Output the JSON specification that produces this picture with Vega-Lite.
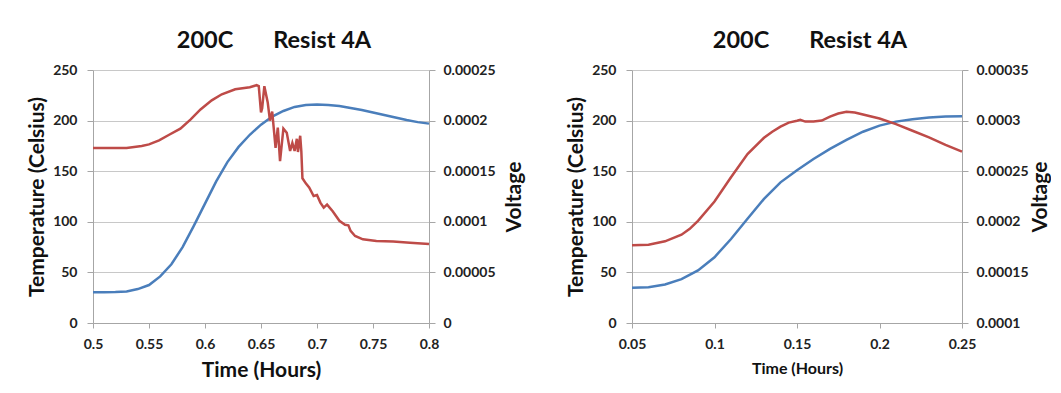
{
  "$schema": "https://vega.github.io/schema/vega-lite/v6.json",
  "background": "white",
  "padding": {"left": 26, "top": 28, "right": 0, "bottom": 0},
  "spacing": 40,
  "config": {
    "view": {"stroke": null},
    "font": "Lato",
    "axis": {
      "labelFont": "Lato", "labelFontWeight": "bold", "labelFontSize": 14, "labelColor": "#222222",
      "titleFont": "Lato", "titleFontWeight": "bold", "titleColor": "#111111",
      "domainColor": "#A6A6A6", "tickColor": "#A6A6A6", "gridColor": "#C8C8C8", "tickSize": 6, "labelPadding": 10
    },
    "title": {"font": "Lato", "fontWeight": "bold", "fontSize": 23.5, "color": "#111111"}
  },
  "datasets": {
    "leftTemp": [
      {"t": 0.5, "temp": 30.4}, {"t": 0.51, "temp": 30.4}, {"t": 0.52, "temp": 30.6}, {"t": 0.53, "temp": 31.2},
      {"t": 0.54, "temp": 33.5}, {"t": 0.55, "temp": 37.5}, {"t": 0.56, "temp": 46}, {"t": 0.57, "temp": 58},
      {"t": 0.58, "temp": 75}, {"t": 0.59, "temp": 96}, {"t": 0.6, "temp": 118}, {"t": 0.61, "temp": 140},
      {"t": 0.62, "temp": 159}, {"t": 0.63, "temp": 174}, {"t": 0.64, "temp": 186}, {"t": 0.65, "temp": 196},
      {"t": 0.66, "temp": 204}, {"t": 0.67, "temp": 209.5}, {"t": 0.68, "temp": 213.5}, {"t": 0.69, "temp": 215.5},
      {"t": 0.7, "temp": 216}, {"t": 0.71, "temp": 215.5}, {"t": 0.72, "temp": 214.5}, {"t": 0.73, "temp": 212.5},
      {"t": 0.74, "temp": 210.5}, {"t": 0.75, "temp": 208}, {"t": 0.76, "temp": 205.5}, {"t": 0.77, "temp": 203},
      {"t": 0.78, "temp": 200.5}, {"t": 0.79, "temp": 198.5}, {"t": 0.8, "temp": 197}
    ],
    "leftVolt": [
      {"t": 0.5, "volt": 0.000173}, {"t": 0.53, "volt": 0.000173}, {"t": 0.5435, "volt": 0.000175}, {"t": 0.55, "volt": 0.0001765},
      {"t": 0.559, "volt": 0.0001805}, {"t": 0.568, "volt": 0.000186}, {"t": 0.578, "volt": 0.000192}, {"t": 0.587, "volt": 0.000201},
      {"t": 0.596, "volt": 0.000211}, {"t": 0.606, "volt": 0.00022}, {"t": 0.615, "volt": 0.000226}, {"t": 0.627, "volt": 0.000231},
      {"t": 0.64, "volt": 0.000233}, {"t": 0.646, "volt": 0.000235}, {"t": 0.648, "volt": 0.000234}, {"t": 0.65, "volt": 0.000208},
      {"t": 0.651, "volt": 0.000212}, {"t": 0.653, "volt": 0.000234}, {"t": 0.656, "volt": 0.000218}, {"t": 0.658, "volt": 0.0002},
      {"t": 0.66, "volt": 0.000209}, {"t": 0.663, "volt": 0.000173}, {"t": 0.665, "volt": 0.000193}, {"t": 0.667, "volt": 0.00016},
      {"t": 0.67, "volt": 0.000192}, {"t": 0.673, "volt": 0.000188}, {"t": 0.676, "volt": 0.00017}, {"t": 0.678, "volt": 0.000178},
      {"t": 0.68, "volt": 0.00017}, {"t": 0.682, "volt": 0.000182}, {"t": 0.683, "volt": 0.000169}, {"t": 0.685, "volt": 0.000185},
      {"t": 0.686, "volt": 0.00017}, {"t": 0.687, "volt": 0.000143}, {"t": 0.69, "volt": 0.000138}, {"t": 0.693, "volt": 0.000134},
      {"t": 0.697, "volt": 0.0001255}, {"t": 0.7, "volt": 0.0001265}, {"t": 0.703, "volt": 0.000119}, {"t": 0.706, "volt": 0.000114},
      {"t": 0.709, "volt": 0.000117}, {"t": 0.714, "volt": 0.0001105}, {"t": 0.72, "volt": 0.000101}, {"t": 0.725, "volt": 0.000097},
      {"t": 0.728, "volt": 0.0000965}, {"t": 0.73, "volt": 0.000091}, {"t": 0.734, "volt": 0.000086}, {"t": 0.741, "volt": 0.0000827},
      {"t": 0.753, "volt": 0.000081}, {"t": 0.768, "volt": 0.0000805}, {"t": 0.783, "volt": 0.0000794}, {"t": 0.8, "volt": 0.000078}
    ],
    "rightTemp": [
      {"t": 0.05, "temp": 34.8}, {"t": 0.06, "temp": 35.4}, {"t": 0.07, "temp": 38}, {"t": 0.08, "temp": 43.3},
      {"t": 0.09, "temp": 52}, {"t": 0.1, "temp": 65}, {"t": 0.11, "temp": 83}, {"t": 0.12, "temp": 103},
      {"t": 0.13, "temp": 122.7}, {"t": 0.14, "temp": 139}, {"t": 0.15, "temp": 151}, {"t": 0.16, "temp": 162},
      {"t": 0.17, "temp": 172}, {"t": 0.18, "temp": 181}, {"t": 0.19, "temp": 189}, {"t": 0.2, "temp": 195},
      {"t": 0.21, "temp": 199}, {"t": 0.22, "temp": 201.4}, {"t": 0.23, "temp": 203}, {"t": 0.24, "temp": 204},
      {"t": 0.25, "temp": 204.4}
    ],
    "rightVolt": [
      {"t": 0.05, "volt": 0.0001768}, {"t": 0.06, "volt": 0.0001774}, {"t": 0.07, "volt": 0.0001807}, {"t": 0.08, "volt": 0.0001873},
      {"t": 0.085, "volt": 0.000193}, {"t": 0.09, "volt": 0.000201}, {"t": 0.1, "volt": 0.00022}, {"t": 0.11, "volt": 0.000244},
      {"t": 0.12, "volt": 0.000267}, {"t": 0.13, "volt": 0.000283}, {"t": 0.135, "volt": 0.000289}, {"t": 0.14, "volt": 0.000294},
      {"t": 0.145, "volt": 0.000298}, {"t": 0.15, "volt": 0.0002998}, {"t": 0.152, "volt": 0.0003008}, {"t": 0.155, "volt": 0.000299},
      {"t": 0.16, "volt": 0.000299}, {"t": 0.165, "volt": 0.0003}, {"t": 0.17, "volt": 0.000304}, {"t": 0.175, "volt": 0.000307},
      {"t": 0.18, "volt": 0.0003087}, {"t": 0.185, "volt": 0.000308}, {"t": 0.19, "volt": 0.000306}, {"t": 0.2, "volt": 0.000302},
      {"t": 0.21, "volt": 0.0002965}, {"t": 0.22, "volt": 0.00029}, {"t": 0.23, "volt": 0.0002834}, {"t": 0.24, "volt": 0.000276},
      {"t": 0.25, "volt": 0.0002693}
    ]
  },
  "hconcat": [
    {
      "width": 336, "height": 253,
      "title": {"text": "200C\u00a0\u00a0\u00a0\u00a0\u00a0\u00a0\u00a0Resist 4A", "frame": "group", "dx": 13, "offset": 11},
      "encoding": {
        "x": {"field": "t", "type": "quantitative", "scale": {"domain": [0.5, 0.8], "nice": false, "zero": false},
          "axis": {"values": [0.5, 0.55, 0.6, 0.65, 0.7, 0.75, 0.8], "format": ".2~f", "grid": false, "tickSize": 5, "labelPadding": 9,
            "title": "Time (Hours)", "titleFontSize": 21, "titlePadding": 8, "labelFlush": false}}
      },
      "layer": [
        {
          "data": {"name": "leftTemp"},
          "mark": {"type": "line", "color": "#4A7EBB", "strokeWidth": 2.5},
          "encoding": {
            "y": {"field": "temp", "type": "quantitative", "scale": {"domain": [0, 250], "nice": false},
              "axis": {"values": [0, 50, 100, 150, 200, 250], "grid": true, "title": "Temperature (Celsius)", "titleFontSize": 21, "titlePadding": 5}}
          }
        },
        {
          "data": {"name": "leftVolt"},
          "mark": {"type": "line", "color": "#BE4B48", "strokeWidth": 2.5},
          "encoding": {
            "y": {"field": "volt", "type": "quantitative", "scale": {"domain": [0, 0.00025], "nice": false},
              "axis": {"orient": "right", "values": [0, 0.00005, 0.0001, 0.00015, 0.0002, 0.00025], "format": ".5~f", "grid": false, "labelPadding": 8,
                "title": "Voltage", "titleFontSize": 21, "titleAngle": -90, "titleBaseline": "top", "titlePadding": 8}}
          }
        }
      ],
      "resolve": {"scale": {"y": "independent"}}
    },
    {
      "width": 330, "height": 253,
      "title": {"text": "200C\u00a0\u00a0\u00a0\u00a0\u00a0\u00a0\u00a0Resist 4A", "frame": "group", "dx": 13, "offset": 11},
      "encoding": {
        "x": {"field": "t", "type": "quantitative", "scale": {"domain": [0.05, 0.25], "nice": false, "zero": false},
          "axis": {"values": [0.05, 0.1, 0.15, 0.2, 0.25], "format": ".2~f", "grid": false, "tickSize": 5, "labelPadding": 9,
            "title": "Time (Hours)", "titleFontSize": 16, "titlePadding": 9, "labelFlush": false}}
      },
      "layer": [
        {
          "data": {"name": "rightTemp"},
          "mark": {"type": "line", "color": "#4A7EBB", "strokeWidth": 2.5},
          "encoding": {
            "y": {"field": "temp", "type": "quantitative", "scale": {"domain": [0, 250], "nice": false},
              "axis": {"values": [0, 50, 100, 150, 200, 250], "grid": true, "title": "Temperature (Celsius)", "titleFontSize": 21, "titlePadding": 5}}
          }
        },
        {
          "data": {"name": "rightVolt"},
          "mark": {"type": "line", "color": "#BE4B48", "strokeWidth": 2.5},
          "encoding": {
            "y": {"field": "volt", "type": "quantitative", "scale": {"domain": [0.0001, 0.00035], "nice": false, "zero": false},
              "axis": {"orient": "right", "values": [0.0001, 0.00015, 0.0002, 0.00025, 0.0003, 0.00035], "format": ".5~f", "grid": false, "labelPadding": 8,
                "title": "Voltage", "titleFontSize": 21, "titleAngle": -90, "titleBaseline": "top", "titlePadding": 1}}
          }
        }
      ],
      "resolve": {"scale": {"y": "independent"}}
    }
  ]
}
